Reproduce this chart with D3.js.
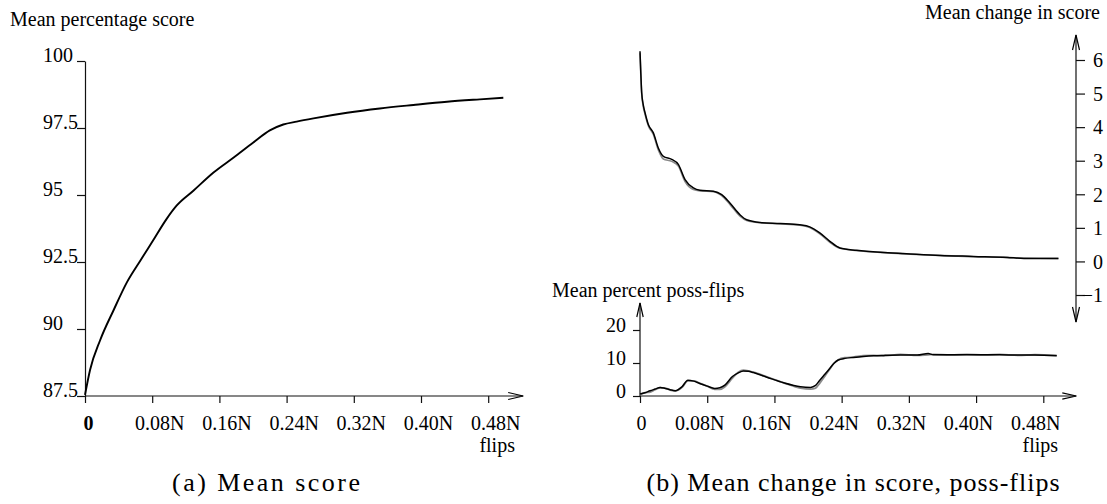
<!DOCTYPE html>
<html><head><meta charset="utf-8">
<script src="https://cdn.jsdelivr.net/npm/d3@7/dist/d3.min.js"></script>
<style>
body{margin:0;background:#fff}
svg{display:block}
svg text{font-family:'Liberation Serif','Times New Roman',Times,'DejaVu Serif',serif !important;fill:#000}
</style>
</head><body>
<svg id="c" width="1107" height="504"></svg>
<script>
// ---------- data ----------
const tickValsN = [0, 0.08, 0.16, 0.24, 0.32, 0.40, 0.48];
const tickLabelsN = ["0", "0.08N", "0.16N", "0.24N", "0.32N", "0.40N", "0.48N"];
const scoreTicks = [87.5, 90, 92.5, 95, 97.5, 100];
const scoreTickLabels = ["87.5", "90", "92.5", "95", "97.5", "100"];
const changeTicks = [-1, 0, 1, 2, 3, 4, 5, 6];
const possTicks = [0, 10, 20];

// (a) mean percentage score
const flipsA = [0, 0.006, 0.018, 0.034, 0.05, 0.066, 0.081, 0.097, 0.109, 0.129, 0.153, 0.177, 0.2, 0.22, 0.236, 0.252, 0.272, 0.312, 0.351, 0.391, 0.431, 0.47, 0.498];
const meanScore = [87.54, 88.47, 89.58, 90.7, 91.75, 92.56, 93.3, 94.1, 94.6, 95.16, 95.84, 96.4, 96.95, 97.41, 97.63, 97.74, 97.86, 98.07, 98.23, 98.36, 98.48, 98.57, 98.63];

// (b) mean change in score
const flipsB = [0, 0.001, 0.002, 0.004, 0.006, 0.0099, 0.0159, 0.0218, 0.0278, 0.0377, 0.0456, 0.0536, 0.0635, 0.0714, 0.0873, 0.0972, 0.107, 0.119, 0.127, 0.143, 0.167, 0.19, 0.202, 0.214, 0.226, 0.238, 0.258, 0.286, 0.317, 0.357, 0.397, 0.437, 0.457, 0.498];
const changeBlack = [6.26, 5.6, 5.03, 4.65, 4.43, 4.08, 3.83, 3.38, 3.13, 3.04, 2.89, 2.44, 2.19, 2.12, 2.09, 1.99, 1.74, 1.39, 1.24, 1.16, 1.13, 1.09, 1.03, 0.85, 0.6, 0.4, 0.33, 0.27, 0.23, 0.18, 0.15, 0.12, 0.09, 0.09];
const changeGray  = [6.2, 5.55, 5.0, 4.6, 4.38, 4.04, 3.78, 3.32, 3.05, 2.98, 2.84, 2.38, 2.14, 2.1, 2.08, 1.96, 1.7, 1.35, 1.22, 1.15, 1.12, 1.08, 1.01, 0.82, 0.57, 0.39, 0.32, 0.27, 0.22, 0.18, 0.14, 0.12, 0.1, 0.09];

// (b) mean percent poss-flips
const flipsC = [0, 0.006, 0.012, 0.018, 0.024, 0.03, 0.036, 0.042, 0.05, 0.057, 0.064, 0.071, 0.08, 0.089, 0.095, 0.101, 0.11, 0.117, 0.123, 0.129, 0.135, 0.151, 0.171, 0.191, 0.203, 0.209, 0.214, 0.22, 0.226, 0.231, 0.236, 0.244, 0.254, 0.266, 0.278, 0.29, 0.31, 0.33, 0.343, 0.349, 0.37, 0.389, 0.41, 0.428, 0.45, 0.47, 0.496];
const possBlack = [0.6, 1.0, 1.6, 2.1, 2.6, 2.3, 1.9, 1.6, 2.8, 4.8, 4.5, 3.8, 3.0, 2.3, 2.5, 3.3, 5.9, 7.0, 7.6, 7.5, 7.1, 5.7, 4.0, 2.8, 2.6, 3.2, 4.8, 6.6, 8.4, 9.9, 10.9, 11.4, 11.7, 12.0, 12.2, 12.3, 12.4, 12.4, 12.9, 12.5, 12.5, 12.5, 12.5, 12.5, 12.4, 12.4, 12.2];
const possGray  = [0.4, 1.0, 1.2, 1.9, 2.5, 2.4, 1.8, 1.5, 2.6, 4.6, 4.6, 3.9, 3.0, 2.0, 2.0, 2.8, 5.4, 7.2, 7.8, 7.6, 7.2, 5.8, 4.0, 2.4, 2.1, 2.4, 3.9, 6.0, 8.2, 10.0, 11.0, 11.6, 11.8, 12.2, 12.3, 12.2, 12.6, 12.3, 12.5, 12.6, 12.4, 12.6, 12.4, 12.6, 12.3, 12.5, 12.3];

// ---------- drawing ----------
const svg = d3.select("#c");
const FONT = "'Liberation Serif','Times New Roman',Times,'DejaVu Serif',serif";
const FS = 20;

function arrow(g, tx, ty, dir, len, half) {
  let pts;
  if (dir === "right") pts = [[tx - len, ty - half], [tx, ty], [tx - len, ty + half]];
  if (dir === "up") pts = [[tx - half, ty + len], [tx, ty], [tx + half, ty + len]];
  if (dir === "down") pts = [[tx - half, ty - len], [tx, ty], [tx + half, ty - len]];
  g.append("path").attr("d", d3.line()(pts)).attr("fill", "none").attr("stroke", "#000").attr("stroke-width", 1.2);
}
function styleAxis(g) {
  g.attr("font-family", null).attr("font-size", FS);
  g.selectAll("text").style("font-family", FONT).style("font-size", FS + "px");
  g.selectAll("line").attr("stroke", "#111").attr("stroke-width", 1.2);
  g.selectAll("path.domain").attr("stroke", "#111").attr("stroke-width", 1.2);
}
function label(x, y, txt, size, anchor) {
  return svg.append("text").attr("x", x).attr("y", y).attr("text-anchor", anchor || "start")
    .style("font-family", FONT).style("font-size", size + "px").text(txt);
}

// ===== panel (a) =====
const xA = d3.scaleLinear().domain([0, 0.48]).range([85, 488.2]);
const yA = d3.scaleLinear().domain([87.5, 100]).range([396, 61]);

const gyA = svg.append("g").attr("transform", `translate(${xA(0)},0)`)
  .call(d3.axisLeft(yA).tickValues(scoreTicks).tickFormat((d, i) => scoreTickLabels[i]).tickSize(8).tickSizeOuter(0));
styleAxis(gyA);
gyA.selectAll("text").attr("x", -42).attr("dy", "0").attr("text-anchor", "start");

const gxA = svg.append("g").attr("transform", `translate(0,${yA(87.5)})`)
  .call(d3.axisBottom(xA).tickValues(tickValsN).tickFormat((d, i) => tickLabelsN[i]).tickSize(7).tickSizeOuter(0));
styleAxis(gxA);
gxA.select(".domain").remove();
gxA.selectAll("text").attr("y", 34).attr("dy", null)
  .attr("dx", d => d === 0 ? 3 : 7)
  .style("font-weight", d => d === 0 ? "bold" : null);
svg.append("line").attr("x1", xA(0)).attr("x2", xA(0.48) + 35).attr("y1", yA(87.5)).attr("y2", yA(87.5))
  .attr("stroke", "#111").attr("stroke-width", 1.2);
arrow(svg, xA(0.48) + 35, yA(87.5), "right", 15, 3.5);

svg.append("path")
  .attr("d", d3.line().x((d, i) => xA(flipsA[i])).y(d => yA(d)).curve(d3.curveMonotoneX)(meanScore))
  .attr("fill", "none").attr("stroke", "#000").attr("stroke-width", 1.9);

label(10, 26, "Mean percentage score", FS);
label(xA(0.48) + 9, 452, "flips", FS, "middle");
label(266, 491, "(a) Mean score", 26, "middle").attr("textLength", 188).attr("lengthAdjust", "spacing");

// ===== panel (b) top: mean change in score =====
const xB = d3.scaleLinear().domain([0, 0.48]).range([640, 1043.3]);
const yB = d3.scaleLinear().domain([-1, 6]).range([295, 60]);

const gyB = svg.append("g").attr("transform", "translate(1076,0)")
  .call(d3.axisRight(yB).tickValues(changeTicks).tickFormat(d3.format("d")).tickSize(9).tickSizeOuter(0));
styleAxis(gyB);
gyB.select(".domain").remove();
gyB.selectAll("text").attr("x", 27).attr("text-anchor", "end").attr("dy", "0.34em");
svg.append("line").attr("x1", 1076).attr("x2", 1076).attr("y1", yB(6) - 25).attr("y2", yB(-1) + 27)
  .attr("stroke", "#111").attr("stroke-width", 1.2);
arrow(svg, 1076, yB(6) - 25, "up", 15, 3.5);
arrow(svg, 1076, yB(-1) + 27, "down", 15, 3.5);

const lineB = arr => d3.line().x((d, i) => xB(flipsB[i])).y(d => yB(d)).curve(d3.curveMonotoneX)(arr);
svg.append("path").attr("d", lineB(changeGray)).attr("fill", "none").attr("stroke", "#8a8a8a").attr("stroke-width", 1.6);
svg.append("path").attr("d", lineB(changeBlack)).attr("fill", "none").attr("stroke", "#000").attr("stroke-width", 1.5);

label(1100, 19, "Mean change in score", FS, "end");

// ===== panel (b) bottom: poss-flips =====
const yC = d3.scaleLinear().domain([0, 20]).range([396, 330]);

const gyC = svg.append("g").attr("transform", `translate(${xB(0)},0)`)
  .call(d3.axisLeft(yC).tickValues(possTicks).tickFormat(d3.format("d")).tickSize(7).tickSizeOuter(0));
styleAxis(gyC);
gyC.select(".domain").remove();
gyC.selectAll("text").attr("x", -14).attr("dy", "1").attr("text-anchor", "end");
svg.append("line").attr("x1", xB(0)).attr("x2", xB(0)).attr("y1", yC(0)).attr("y2", yC(20) - 27)
  .attr("stroke", "#111").attr("stroke-width", 1.2);
arrow(svg, xB(0), yC(20) - 27, "up", 14, 3.2);

const gxC = svg.append("g").attr("transform", `translate(0,${yC(0)})`)
  .call(d3.axisBottom(xB).tickValues(tickValsN).tickFormat((d, i) => tickLabelsN[i]).tickSize(7).tickSizeOuter(0));
styleAxis(gxC);
gxC.select(".domain").remove();
gxC.selectAll("text").attr("y", 34).attr("dy", null).attr("dx", d => d === 0 ? 1 : -8);
svg.append("line").attr("x1", xB(0)).attr("x2", xB(0.48) + 33).attr("y1", yC(0)).attr("y2", yC(0))
  .attr("stroke", "#111").attr("stroke-width", 1.2);
arrow(svg, xB(0.48) + 33, yC(0), "right", 14, 3.2);

const lineC = arr => d3.line().x((d, i) => xB(flipsC[i])).y(d => yC(d)).curve(d3.curveMonotoneX)(arr);
svg.append("path").attr("d", lineC(possGray)).attr("fill", "none").attr("stroke", "#8a8a8a").attr("stroke-width", 1.8);
svg.append("path").attr("d", lineC(possBlack)).attr("fill", "none").attr("stroke", "#000").attr("stroke-width", 1.5);

label(552, 297, "Mean percent poss-flips", FS);
label(xB(0.48) - 3, 452, "flips", FS, "middle");
label(853, 491, "(b) Mean change in score, poss-flips", 26, "middle").attr("textLength", 413).attr("lengthAdjust", "spacing");
</script>
</body></html>
